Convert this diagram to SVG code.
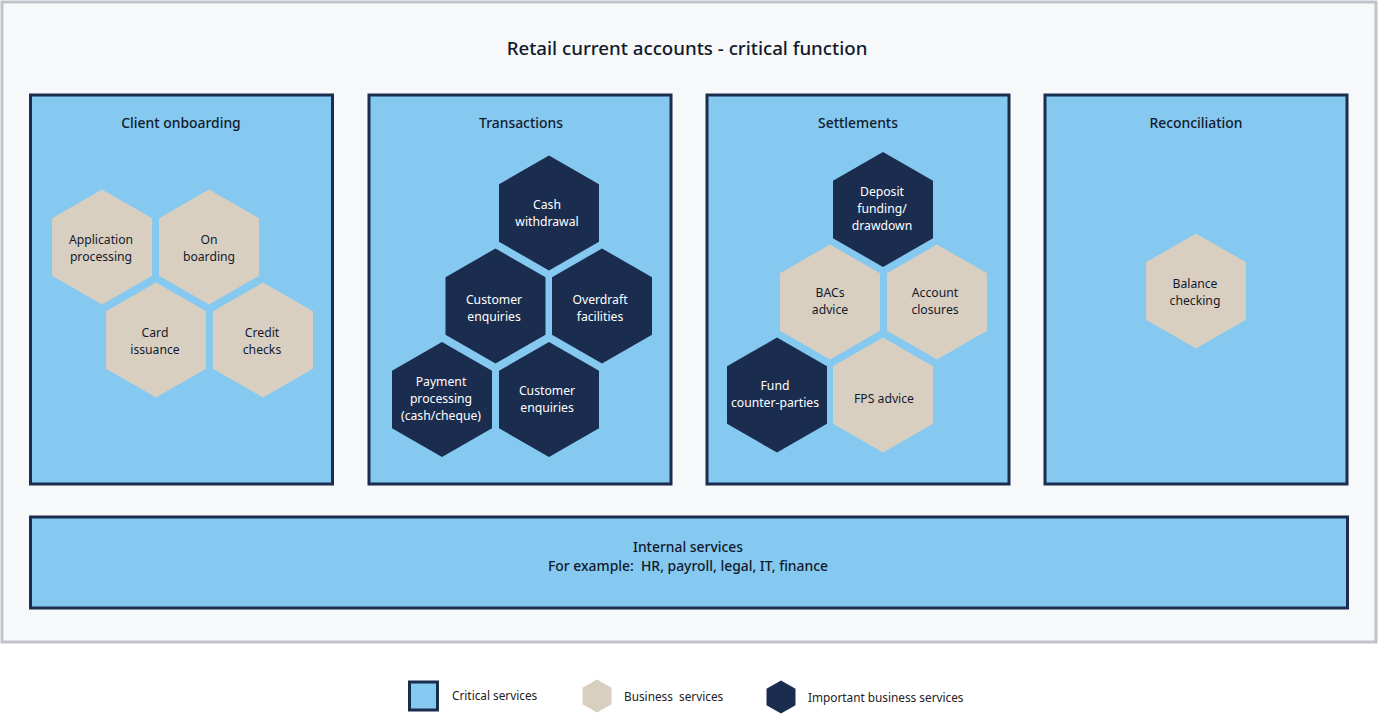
<svg xmlns="http://www.w3.org/2000/svg" xmlns:xlink="http://www.w3.org/1999/xlink" width="1379" height="714" viewBox="0 0 1379 714">
<style>
text{font-family:"Noto Sans","Open Sans","Liberation Sans",sans-serif;fill:#111a2c;text-anchor:middle}
.title{font-size:18.7px;font-weight:500}
.ptitle{font-size:13.9px;font-weight:500}
.hl{font-size:12.2px}
.hd{font-size:12.2px;fill:#ffffff}
.leg{font-size:11.8px;text-anchor:start;fill:#222}
.panel{fill:#85c8f0;stroke:#1b2d4f;stroke-width:3}
.biz{fill:#d9cfc1}
.imp{fill:#1b2d4f}
</style>
<defs>
<polygon id="hex" points="0,-57.5 50,-28.75 50,28.75 0,57.5 -50,28.75 -50,-28.75"/>
<polygon id="hexs" points="0,-16.5 14.5,-8.25 14.5,8.25 0,16.5 -14.5,8.25 -14.5,-8.25"/>
</defs>
<rect x="0" y="0" width="1379" height="714" fill="#ffffff"/>
<rect id="frame" x="2" y="2" width="1374" height="640" fill="#f7f8f9" stroke="#c0c3cb" stroke-width="3"/>
<text class="title" x="687" y="55">Retail current accounts - critical function</text>

<g id="panel-client">
<rect class="panel" x="30.5" y="95" width="302" height="389"/>
<text class="ptitle" x="181" y="128">Client onboarding</text>
</g>
<g id="panel-transactions">
<rect class="panel" x="369" y="95" width="302" height="389"/>
<text class="ptitle" x="521" y="128">Transactions</text>
</g>
<g id="panel-settlements">
<rect class="panel" x="707" y="95" width="302" height="389"/>
<text class="ptitle" x="858" y="128">Settlements</text>
</g>
<g id="panel-reconciliation">
<rect class="panel" x="1045" y="95" width="302" height="389"/>
<text class="ptitle" x="1196" y="128">Reconciliation</text>
</g>
<g id="panel-internal">
<rect class="panel" x="30.5" y="517" width="1317" height="91"/>
<text class="ptitle" x="688" y="552">Internal services</text>
<text class="ptitle" x="688" y="571" xml:space="preserve">For example:  HR, payroll, legal, IT, finance</text>
</g>

<g id="hex-application">
<use xlink:href="#hex" href="#hex" class="biz" x="102" y="247"/>
<text class="hl" x="101" y="244">Application</text>
<text class="hl" x="101" y="261">processing</text>
</g>
<g id="hex-onboarding">
<use xlink:href="#hex" href="#hex" class="biz" x="209" y="247"/>
<text class="hl" x="209" y="244">On</text>
<text class="hl" x="209" y="261">boarding</text>
</g>
<g id="hex-card">
<use xlink:href="#hex" href="#hex" class="biz" x="156" y="340"/>
<text class="hl" x="155" y="337">Card</text>
<text class="hl" x="155" y="354">issuance</text>
</g>
<g id="hex-credit">
<use xlink:href="#hex" href="#hex" class="biz" x="263" y="340"/>
<text class="hl" x="262" y="337">Credit</text>
<text class="hl" x="262" y="354">checks</text>
</g>

<g id="hex-cash">
<use xlink:href="#hex" href="#hex" class="imp" x="549" y="213"/>
<text class="hd" x="547" y="209">Cash</text>
<text class="hd" x="547" y="226">withdrawal</text>
</g>
<g id="hex-enquiries1">
<use xlink:href="#hex" href="#hex" class="imp" x="495.5" y="306"/>
<text class="hd" x="494" y="304">Customer</text>
<text class="hd" x="494" y="321">enquiries</text>
</g>
<g id="hex-overdraft">
<use xlink:href="#hex" href="#hex" class="imp" x="602" y="306"/>
<text class="hd" x="600" y="304">Overdraft</text>
<text class="hd" x="600" y="321">facilities</text>
</g>
<g id="hex-payment">
<use xlink:href="#hex" href="#hex" class="imp" x="442" y="399.5"/>
<text class="hd" x="441" y="386">Payment</text>
<text class="hd" x="441" y="403">processing</text>
<text class="hd" x="441" y="420">(cash/cheque)</text>
</g>
<g id="hex-enquiries2">
<use xlink:href="#hex" href="#hex" class="imp" x="549" y="399.5"/>
<text class="hd" x="547" y="395">Customer</text>
<text class="hd" x="547" y="412">enquiries</text>
</g>

<g id="hex-deposit">
<use xlink:href="#hex" href="#hex" class="imp" x="883" y="209.5"/>
<text class="hd" x="882" y="196">Deposit</text>
<text class="hd" x="882" y="213">funding/</text>
<text class="hd" x="882" y="230">drawdown</text>
</g>
<g id="hex-bacs">
<use xlink:href="#hex" href="#hex" class="biz" x="830" y="302"/>
<text class="hl" x="830" y="297">BACs</text>
<text class="hl" x="830" y="314">advice</text>
</g>
<g id="hex-closures">
<use xlink:href="#hex" href="#hex" class="biz" x="937" y="302"/>
<text class="hl" x="935" y="297">Account</text>
<text class="hl" x="935" y="314">closures</text>
</g>
<g id="hex-fund">
<use xlink:href="#hex" href="#hex" class="imp" x="777" y="395"/>
<text class="hd" x="775" y="390">Fund</text>
<text class="hd" x="775" y="407">counter-parties</text>
</g>
<g id="hex-fps">
<use xlink:href="#hex" href="#hex" class="biz" x="883" y="395"/>
<text class="hl" x="884" y="403">FPS advice</text>
</g>

<g id="hex-balance">
<use xlink:href="#hex" href="#hex" class="biz" x="1196" y="291"/>
<text class="hl" x="1195" y="288">Balance</text>
<text class="hl" x="1195" y="305">checking</text>
</g>

<g id="connectors"></g>

<g id="legend">
<rect x="409.5" y="682" width="28" height="28" fill="#85c8f0" stroke="#1b2d4f" stroke-width="3"/>
<text class="leg" x="452" y="700">Critical services</text>
<use xlink:href="#hexs" href="#hexs" class="biz" x="597" y="696"/>
<text class="leg" x="624" y="701" xml:space="preserve">Business  services</text>
<use xlink:href="#hexs" href="#hexs" class="imp" x="781" y="697"/>
<text class="leg" x="808" y="702">Important business services</text>
</g>
</svg>
